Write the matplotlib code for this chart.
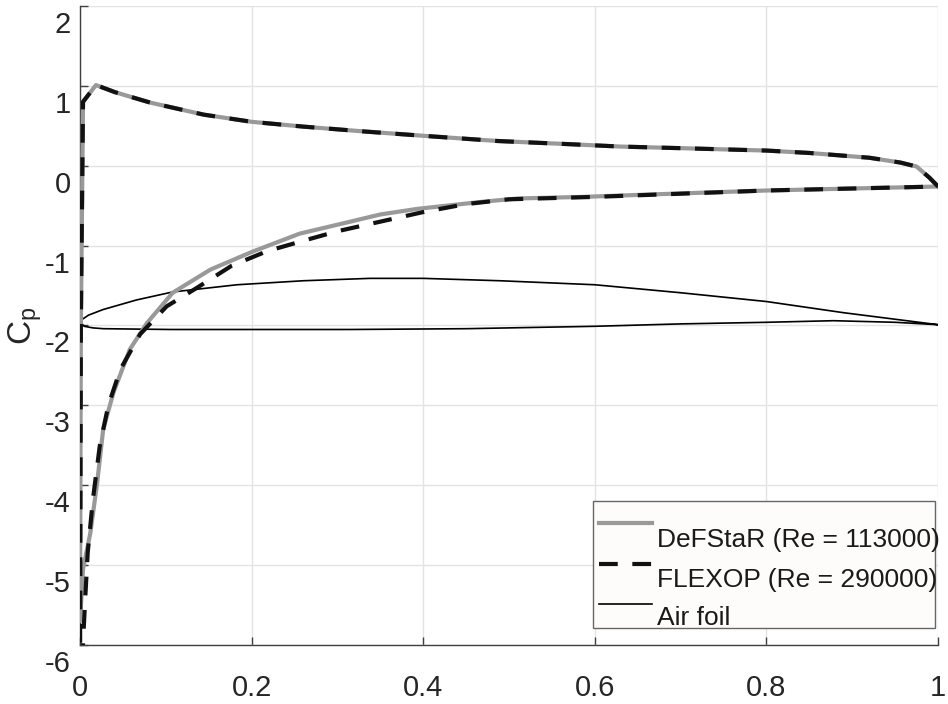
#!/usr/bin/env python3
# -*- coding: utf-8 -*-
import matplotlib
matplotlib.use('Agg')
import matplotlib.pyplot as plt
import matplotlib.transforms as mtransforms
from matplotlib.patches import Rectangle

plt.rcParams['font.family'] = ['Liberation Sans', 'DejaVu Sans']
plt.rcParams['mathtext.fontset'] = 'custom'
plt.rcParams['mathtext.rm'] = 'Liberation Sans'
plt.rcParams['mathtext.it'] = 'Liberation Sans'

# DeFStaR (Re = 113000): trailing edge -> upper branch -> leading edge -> lower branch -> trailing edge
x_defstar = [1.0, 0.99, 0.975, 0.956, 0.92, 0.85, 0.8, 0.7, 0.63, 0.57, 0.486, 0.4, 0.33,
             0.26, 0.2, 0.144, 0.082, 0.041, 0.0186, 0.0035, 0.001, 0.0, 0.0035, 0.012,
             0.02, 0.027, 0.039, 0.058, 0.078, 0.108, 0.152, 0.2, 0.256, 0.315, 0.35,
             0.393, 0.47, 0.51, 0.586, 0.664, 0.8, 1.0]
cp_defstar = [-0.26, -0.15, -0.01, 0.04, 0.10, 0.16, 0.19, 0.22, 0.24, 0.27, 0.31, 0.375, 0.43,
              0.49, 0.55, 0.64, 0.79, 0.92, 1.01, 0.8, -2.0, -5.7, -5.05, -4.6,
              -3.97, -3.3, -2.84, -2.3, -1.97, -1.59, -1.30, -1.08, -0.85, -0.70, -0.61,
              -0.54, -0.45, -0.41, -0.39, -0.36, -0.31, -0.26]

# FLEXOP (Re = 290000)
x_flexop = [1.0, 0.99, 0.975, 0.956, 0.92, 0.85, 0.8, 0.7, 0.63, 0.57, 0.486, 0.4, 0.33,
            0.26, 0.2, 0.144, 0.082, 0.041, 0.0186, 0.0035, 0.001, 0.0, 0.002, 0.006,
            0.009, 0.015, 0.023, 0.033, 0.047, 0.07, 0.101, 0.136, 0.177, 0.218, 0.26,
            0.3, 0.35, 0.4, 0.45, 0.5, 0.6, 0.8, 1.0]
cp_flexop = [-0.26, -0.15, -0.01, 0.04, 0.10, 0.16, 0.19, 0.22, 0.24, 0.27, 0.31, 0.375, 0.43,
             0.49, 0.55, 0.64, 0.79, 0.92, 1.01, 0.8, -2.0, -6.6, -6.3, -5.43,
             -4.84, -4.18, -3.51, -3.0, -2.55, -2.11, -1.76, -1.53, -1.25, -1.07, -0.94,
             -0.82, -0.70, -0.58, -0.48, -0.42, -0.39, -0.31, -0.26]

# airfoil outline (scaled into the Cp axis)
x_airfoil = [1.0, 0.89, 0.8, 0.7, 0.6, 0.49, 0.4, 0.338, 0.26, 0.183, 0.108, 0.066,
             0.027, 0.01, 0.003, 0.0, 0.005, 0.015, 0.027, 0.105, 0.315, 0.45, 0.6,
             0.7, 0.8, 0.878, 0.95, 1.0]
y_airfoil = [-1.99, -1.84, -1.70, -1.59, -1.49, -1.44, -1.41, -1.41, -1.44, -1.49, -1.58, -1.68,
             -1.80, -1.87, -1.92, -1.96, -2.01, -2.03, -2.04, -2.05, -2.05, -2.04, -2.01,
             -1.98, -1.96, -1.94, -1.96, -1.99]

legend_labels = ['DeFStaR (Re = 113000)', 'FLEXOP (Re = 290000)', 'Air foil']
x_ticks = [0, 0.2, 0.4, 0.6, 0.8, 1]
x_tick_labels = ['0', '0.2', '0.4', '0.6', '0.8', '1']
y_ticks = [-6, -5, -4, -3, -2, -1, 0, 1, 2]
y_tick_labels = ['-6', '-5', '-4', '-3', '-2', '-1', '0', '1', '2']

GRAY = '#999999'
AXC = '#404040'


def draw_legend(ax):
    # hand made legend box, labels sit a bit under their line samples
    box = Rectangle((0.598, 0.0266), 0.3985, 0.1988, transform=ax.transAxes,
                    facecolor='#fdfcfb', edgecolor='#666666', lw=1.0, zorder=5)
    ax.add_patch(box)
    styles = [dict(color=GRAY, lw=3, ls='-'),
              dict(color='#111111', lw=3, ls=(0, (4.5, 3.5))),
              dict(color='black', lw=1.2, ls='-')]
    line_y = [0.191, 0.1268, 0.0642]
    text_y = [0.1643, 0.1017, 0.0423]
    for st, ly, ty, lab in zip(styles, line_y, text_y, legend_labels):
        ax.plot([0.605, 0.667], [ly, ly], transform=ax.transAxes, clip_on=False,
                zorder=6, **st)
        t = ax.text(0.6725, ty, lab, transform=ax.transAxes, fontsize=19,
                    va='center', ha='left', color='#1a1a1a', zorder=7, clip_on=False)
        if lab == 'Air foil':
            t.set_clip_path(box)


def plot_cp():
    fig = plt.figure(figsize=(9.48, 7.04), dpi=100)
    ax = fig.add_axes([0.0844, 0.0838, 0.9051, 0.9077])

    ax.plot(x_airfoil, y_airfoil, color='black', lw=1.2, zorder=3)
    ax.plot(x_defstar, cp_defstar, color=GRAY, lw=3, zorder=3)
    ax.plot(x_flexop, cp_flexop, color='#111111', lw=3, ls=(0, (4.5, 3.5)), zorder=4)

    ax.set_xlim(0, 1)
    ax.set_ylim(-6, 2)
    ax.set_xticks(x_ticks)
    ax.set_xticklabels(x_tick_labels)
    ax.set_yticks(y_ticks)
    ax.set_yticklabels(y_tick_labels)
    ax.grid(True, color='#e3e3e3', lw=1.0)
    ax.set_axisbelow(True)

    for side in ['top', 'right']:
        ax.spines[side].set_visible(False)
    for side in ['left', 'bottom']:
        ax.spines[side].set_color(AXC)
        ax.spines[side].set_linewidth(1.0)

    ax.tick_params(axis='both', direction='in', length=6, width=1.0, color=AXC,
                   labelsize=21, labelcolor='#262626')
    ax.tick_params(axis='y', pad=6.5)
    ax.tick_params(axis='x', pad=21)

    ax.set_ylabel(r'$\mathregular{C_p}$', fontsize=24, color='#262626')
    ax.yaxis.set_label_coords(-0.042, 0.5)

    draw_legend(ax)

    fig.canvas.draw()
    shift = mtransforms.ScaledTranslation(0, -0.16, fig.dpi_scale_trans)
    for lab in ax.get_yticklabels():
        lab.set_transform(lab.get_transform() + shift)

    fig.savefig('out.png', dpi=100)


if __name__ == '__main__':
    plot_cp()
